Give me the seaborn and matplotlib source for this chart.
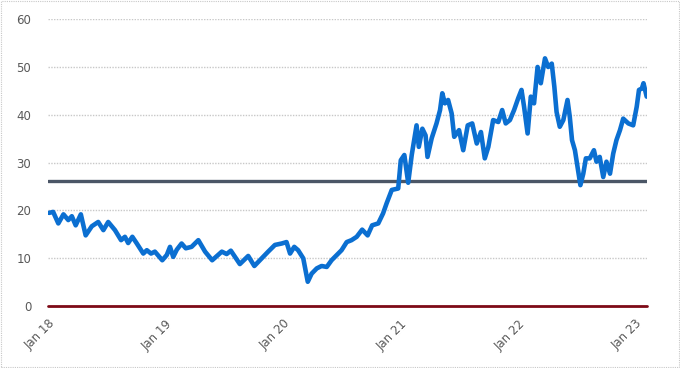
import pandas as pd
import matplotlib.pyplot as plt
import seaborn as sns
from matplotlib.patches import Rectangle

# === Data ===
dates = [
    "2018-01-04", "2018-01-17", "2018-02-02", "2018-02-18", "2018-03-05", "2018-03-16",
    "2018-03-28", "2018-04-13", "2018-04-28", "2018-05-17", "2018-06-06", "2018-06-22",
    "2018-07-07", "2018-07-28", "2018-08-16", "2018-08-28", "2018-09-07", "2018-09-20",
    "2018-10-03", "2018-10-24", "2018-11-04", "2018-11-17", "2018-11-29", "2018-12-22",
    "2019-01-05", "2019-01-15", "2019-01-25", "2019-02-05", "2019-02-20", "2019-03-05",
    "2019-03-23", "2019-04-13", "2019-05-04", "2019-05-26", "2019-06-25", "2019-07-10",
    "2019-07-23", "2019-08-20", "2019-09-15", "2019-10-04", "2019-10-27", "2019-11-16",
    "2019-12-07", "2019-12-28", "2020-01-12", "2020-01-23", "2020-02-05", "2020-02-17",
    "2020-03-04", "2020-03-18", "2020-03-30", "2020-04-15", "2020-04-30", "2020-05-16",
    "2020-05-31", "2020-06-16", "2020-07-01", "2020-07-17", "2020-08-01", "2020-08-17",
    "2020-09-03", "2020-09-20", "2020-10-04", "2020-10-23", "2020-11-07", "2020-11-18",
    "2020-12-04", "2020-12-24", "2021-01-01", "2021-01-12", "2021-01-24", "2021-02-04",
    "2021-02-19", "2021-02-26", "2021-03-09", "2021-03-19", "2021-03-25", "2021-04-07",
    "2021-04-22", "2021-05-03", "2021-05-10", "2021-05-18", "2021-05-28", "2021-06-08",
    "2021-06-16", "2021-07-01", "2021-07-14", "2021-07-28", "2021-08-11", "2021-08-25",
    "2021-09-07", "2021-09-19", "2021-09-30", "2021-10-15", "2021-10-31", "2021-11-12",
    "2021-11-23", "2021-12-06", "2021-12-19", "2022-01-01", "2022-01-11", "2022-01-19",
    "2022-01-30", "2022-02-09", "2022-02-19", "2022-03-02", "2022-03-12", "2022-03-25",
    "2022-04-04", "2022-04-15", "2022-04-23", "2022-04-30", "2022-05-10", "2022-05-21",
    "2022-06-03", "2022-06-10", "2022-06-17", "2022-06-26", "2022-07-04", "2022-07-13",
    "2022-07-22", "2022-07-30", "2022-08-11", "2022-08-24", "2022-09-01", "2022-09-11",
    "2022-09-22", "2022-10-02", "2022-10-13", "2022-10-23", "2022-11-02", "2022-11-13",
    "2022-11-23", "2022-12-09", "2022-12-24", "2023-01-04", "2023-01-11", "2023-01-20",
    "2023-01-25", "2023-02-04",
]
values = [
    19.5, 19.7, 17.3, 19.2, 18.0, 18.8,
    16.9, 19.2, 14.8, 16.7, 17.6, 15.9,
    17.6, 15.9, 13.8, 14.5, 13.2, 14.5,
    13.2, 11.0, 11.7, 11.0, 11.4, 9.6,
    10.7, 12.4, 10.3, 11.8, 13.1, 12.1,
    12.4, 13.8, 11.4, 9.6, 11.4, 10.9,
    11.6, 8.8, 10.5, 8.4, 10.0, 11.4,
    12.8, 13.1, 13.4, 11.0, 12.4, 11.7,
    10.0, 5.1, 6.8, 7.9, 8.4, 8.2,
    9.6, 10.7, 11.7, 13.4, 13.8, 14.5,
    16.0, 14.8, 16.9, 17.3, 19.4, 21.5,
    24.3, 24.6, 30.5, 31.6, 25.8, 31.6,
    37.8, 33.3, 37.1, 35.7, 31.2, 35.1,
    38.2, 41.0, 44.5, 42.4, 43.1, 40.3,
    35.4, 36.8, 32.6, 37.8, 38.2, 34.0,
    36.4, 30.9, 33.3, 38.9, 38.5, 41.0,
    38.2, 38.9, 41.0, 43.5, 45.2, 41.7,
    36.1, 43.8, 42.4, 50.0, 46.6, 51.8,
    50.0, 50.7, 45.9, 40.6, 37.5, 38.9,
    43.1, 39.6, 34.7, 32.6, 29.1, 25.3,
    27.7, 30.9, 30.9, 32.6, 30.2, 31.2,
    27.0, 30.2, 27.7, 31.9, 34.7, 36.8,
    39.2, 38.2, 37.8, 41.7, 45.2, 45.5,
    46.6, 43.8,
]
average_level = 26.2
zero_level = 0
y_ticks = [0, 10, 20, 30, 40, 50, 60]
x_tick_dates = ["2018-01-01", "2019-01-01", "2020-01-01", "2021-01-01", "2022-01-01", "2023-01-01"]
x_tick_labels = ["Jan 18", "Jan 19", "Jan 20", "Jan 21", "Jan 22", "Jan 23"]

df = pd.DataFrame({"date": pd.to_datetime(dates), "value": values})

# === Plot ===
sns.set_style("white")
fig = plt.figure(figsize=(6.8, 3.68), dpi=100)
ax = fig.add_axes([0.0706, 0.168, 0.8809, 0.780])

for y in y_ticks[1:]:
    ax.axhline(y, color="#c8c8c8", linestyle=(0, (1, 1)), linewidth=1.0, zorder=1)

sns.lineplot(data=df, x="date", y="value", ax=ax, color="#0b6fd1", linewidth=3.3, zorder=3)
ax.axhline(average_level, color="#4b5666", linewidth=2.4, zorder=2)
ax.axhline(zero_level, color="#7d0a16", linewidth=2.0, zorder=4, clip_on=False)

ax.set_xlim(pd.Timestamp("2018-01-01"), pd.Timestamp("2023-02-05"))
ax.set_ylim(0, 60)
ax.set_yticks(y_ticks)
ax.set_yticklabels([str(t) for t in y_ticks])
ax.set_xticks(pd.to_datetime(x_tick_dates))
ax.set_xticklabels(x_tick_labels, rotation=45, ha="right", rotation_mode="anchor")
ax.tick_params(axis="y", length=0, pad=12, labelsize=8.5, labelcolor="#595959")
ax.tick_params(axis="x", length=3, width=0.6, color="#c8c8c8", pad=5, labelsize=8.5, labelcolor="#595959")
ax.set_xlabel("")
ax.set_ylabel("")
for s in ax.spines.values():
    s.set_visible(False)

# dotted frame around the figure
fig.patches.append(Rectangle((0.002, 0.003), 0.996, 0.994, transform=fig.transFigure,
                             fill=False, edgecolor="#c8c8c8", linestyle=(0, (1, 1)), linewidth=0.8))

fig.savefig("out.png", dpi=100)
plt.close(fig)
